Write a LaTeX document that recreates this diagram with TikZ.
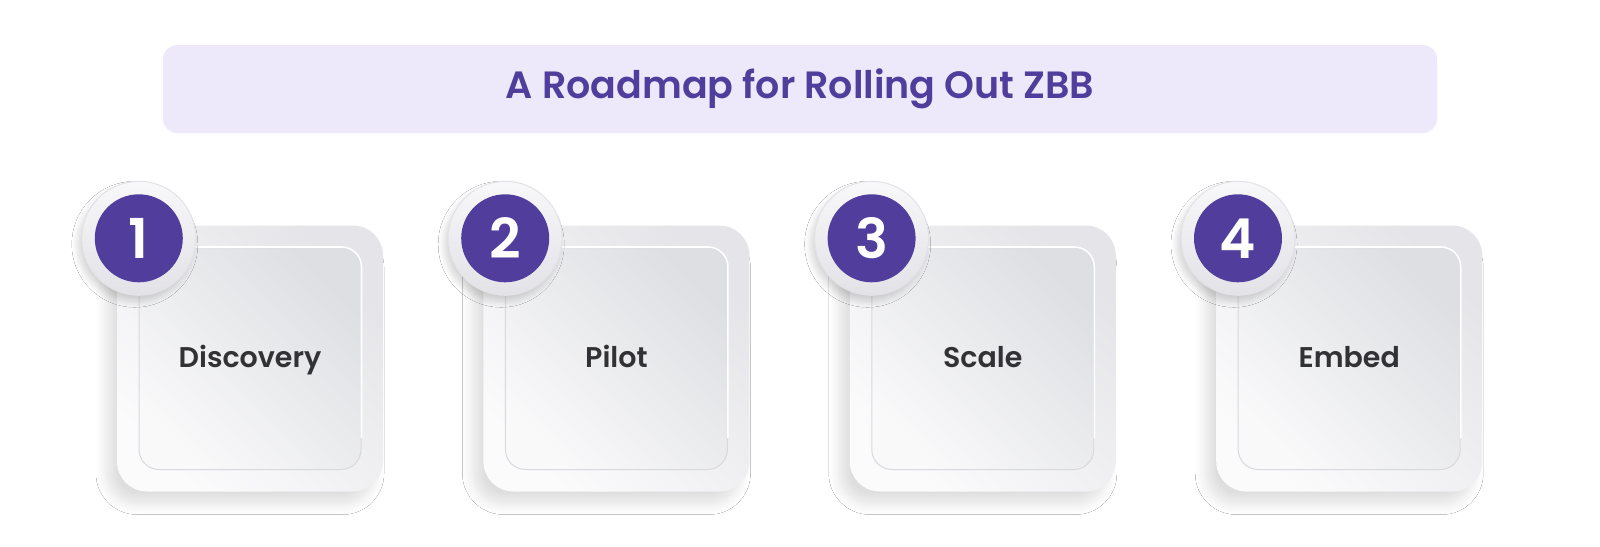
\documentclass[tikz,border=0pt]{standalone}
\usepackage{fontspec}
\setmainfont{Poppins}
\newfontfamily\popsemi{Poppins SemiBold}
\usepackage{tikz}
\usetikzlibrary{positioning,shadows,shadows.blur,calc}
\definecolor{zbbpurple}{RGB}{80,61,156}
\definecolor{zbblavender}{RGB}{237,233,251}
\definecolor{labelgray}{RGB}{50,50,54}
\definecolor{cardwhite}{RGB}{251,251,252}
\definecolor{cardgray}{RGB}{229,229,233}
\definecolor{facewhite}{RGB}{249,249,250}
\definecolor{facegray}{RGB}{222,223,227}
\definecolor{faceedge}{RGB}{216,216,224}
\definecolor{ringwhite}{RGB}{248,248,250}
\definecolor{ringgray}{RGB}{226,226,231}
\tikzstyle{titlebox} = [rectangle, rounded corners=14pt, minimum width=1274pt, minimum height=88pt, inner sep=0pt, fill=zbblavender, text=zbbpurple, font=\popsemi\fontsize{38}{44}\selectfont]
\tikzstyle{stepcard} = [rectangle, rounded corners=30pt, minimum size=266pt, inner sep=0pt, top color=cardgray, bottom color=cardwhite, shading angle=-45, blur shadow={shadow xshift=-10pt, shadow yshift=-12pt, shadow blur radius=11pt, shadow blur steps=14, shadow opacity=13}]
\tikzstyle{stepface} = [rectangle, rounded corners=20pt, minimum size=222pt, inner sep=0pt, top color=facegray, bottom color=facewhite, shading angle=-45, draw=faceedge, line width=1pt, text=labelgray, text height=17pt, text depth=0pt, font=\popsemi\fontsize{28.5}{34}\selectfont]
\tikzstyle{numring} = [circle, minimum size=114pt, inner sep=0pt, top color=ringwhite, bottom color=ringgray, draw=ringgray, line width=1pt, blur shadow={shadow xshift=-4pt, shadow yshift=-6pt, shadow blur radius=6pt, shadow blur steps=10, shadow opacity=16}]
\tikzstyle{numdot} = [circle, minimum size=88pt, inner sep=0pt, fill=zbbpurple, text=white, font=\popsemi\fontsize{55}{60}\selectfont]
\tikzstyle{rim} = [white, line width=1.6pt, rounded corners=20pt]

\begin{document}
\begin{tikzpicture}[x=1pt,y=-1pt]
\fill[white] (0,0) rectangle (1600,546);

% Title
\node[titlebox] (title) at (800,89) {A Roadmap for Rolling Out ZBB};

% Cards
\node[stepcard] (card1) at (250,358.5) {};
\node[stepcard, right=100pt of card1] (card2) {};
\node[stepcard, right=100pt of card2] (card3) {};
\node[stepcard, right=100pt of card3] (card4) {};

% Faces with step names
\node[stepface] (face1) at (card1) {Discovery};
\node[stepface] (face2) at (card2) {Pilot};
\node[stepface] (face3) at (card3) {Scale};
\node[stepface] (face4) at (card4) {Embed};

% Highlights on the top right edges
\draw[rim] ($(face1.north west)+(32,0)$) -- (face1.north east) -- ($(face1.south east)+(0,-32)$);
\draw[rim] ($(face2.north west)+(32,0)$) -- (face2.north east) -- ($(face2.south east)+(0,-32)$);
\draw[rim] ($(face3.north west)+(32,0)$) -- (face3.north east) -- ($(face3.south east)+(0,-32)$);
\draw[rim] ($(face4.north west)+(32,0)$) -- (face4.north east) -- ($(face4.south east)+(0,-32)$);

% Step numbers
\node[numring] (ring1) at ($(card1.north west)+(22,13)$) {};
\node[numring] (ring2) at ($(card2.north west)+(22,13)$) {};
\node[numring] (ring3) at ($(card3.north west)+(22,13)$) {};
\node[numring] (ring4) at ($(card4.north west)+(22,13)$) {};
\node[numdot] (num1) at (ring1) {1};
\node[numdot] (num2) at (ring2) {2};
\node[numdot] (num3) at (ring3) {3};
\node[numdot] (num4) at (ring4) {4};

\pgfresetboundingbox
\useasboundingbox (0,0) rectangle (1600,546);
\end{tikzpicture}
\end{document}
